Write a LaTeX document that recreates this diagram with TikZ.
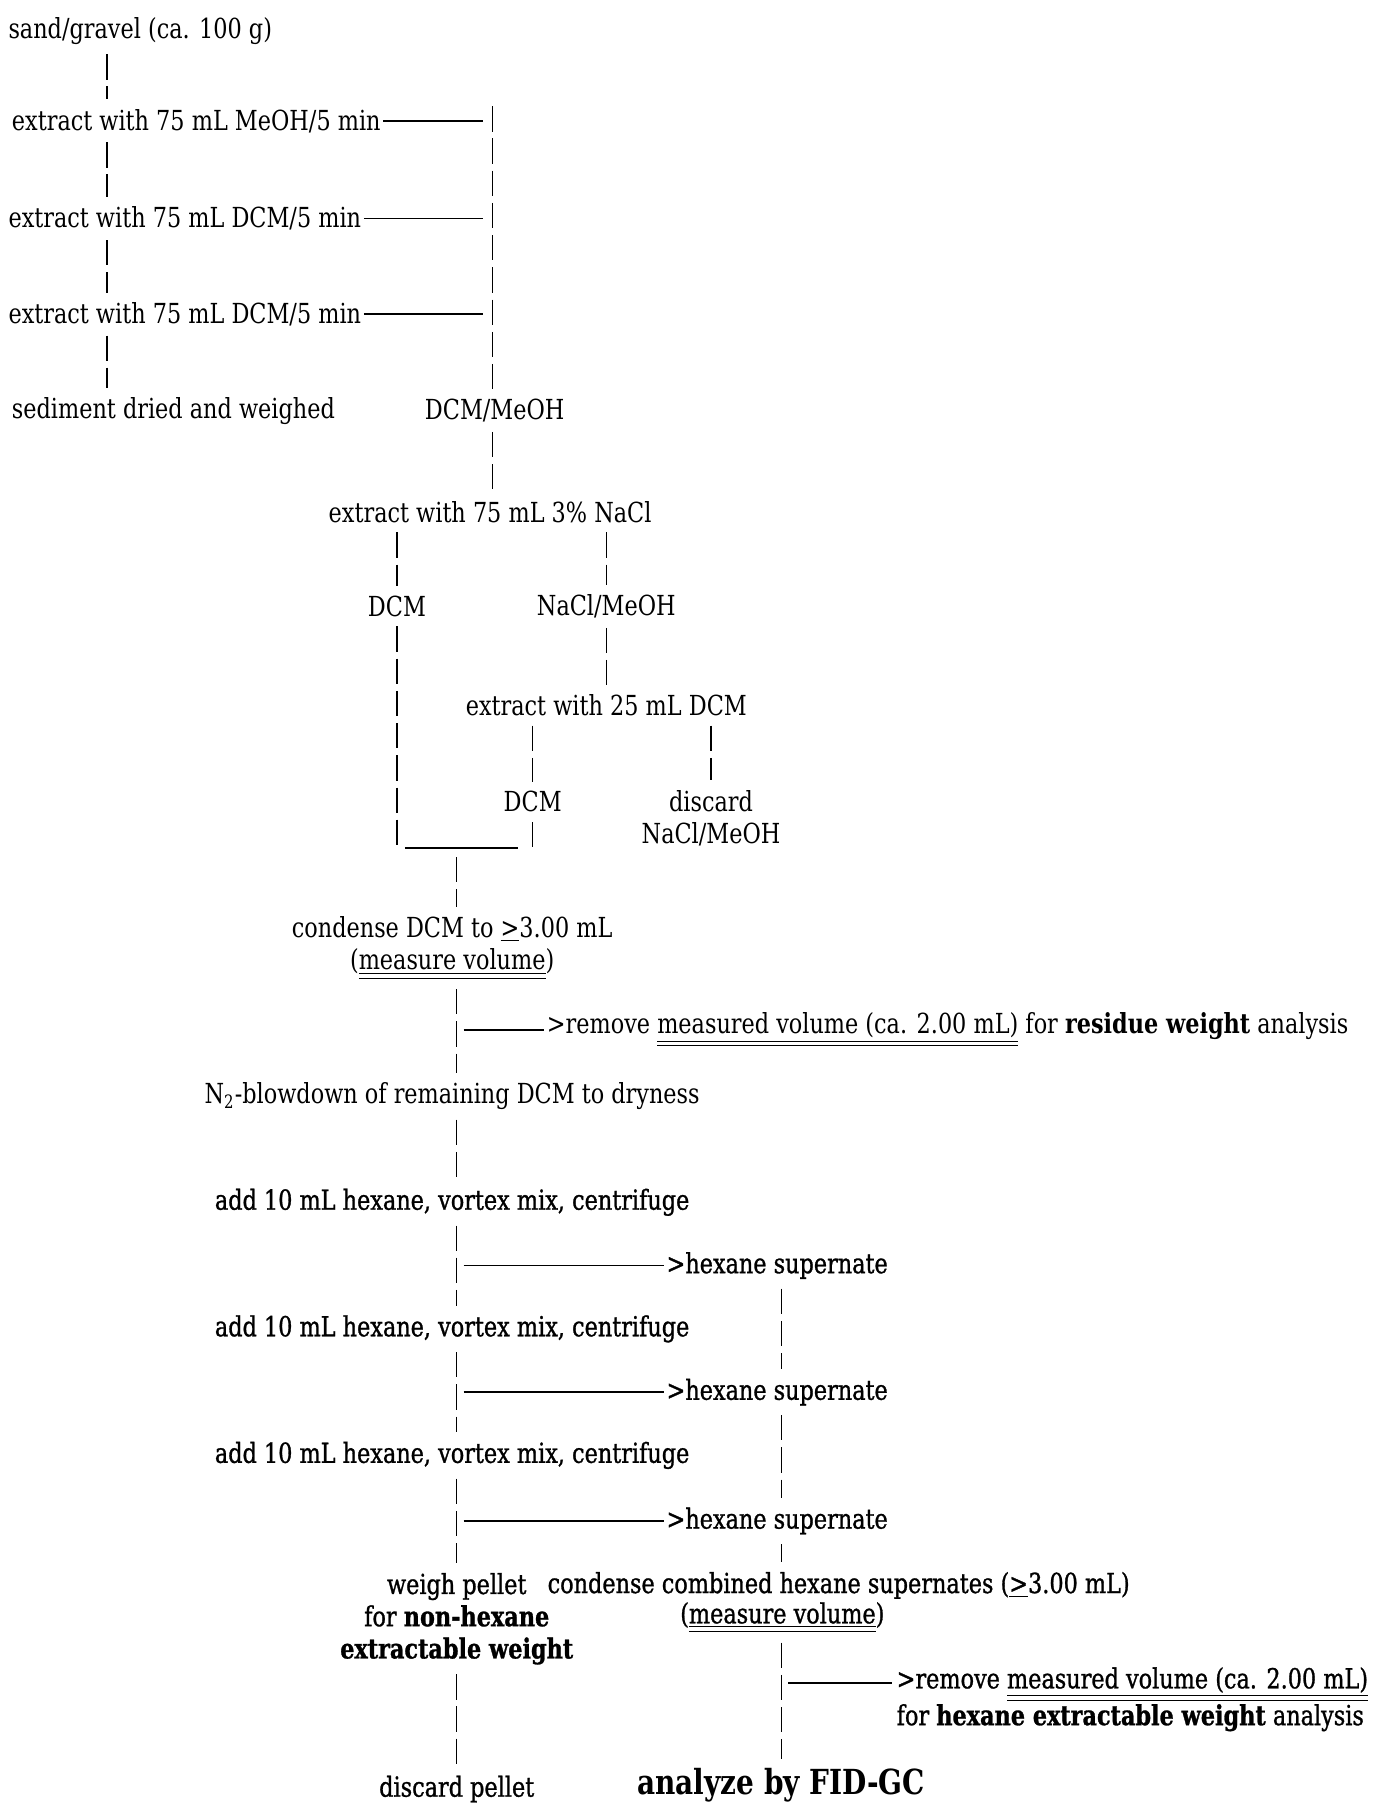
\documentclass[tikz,border=0pt]{standalone}
\usepackage{fontspec}
\setmainfont{DejaVu Serif}[FakeStretch=0.81]
\newfontfamily\heavyfont{DejaVu Serif}[FakeStretch=0.81, FakeBold=1]
\usetikzlibrary{calc}
\newcommand\dblul[1]{\underline{\underline{#1}}}
\begin{document}
\begin{tikzpicture}[x=0.5pt,y=-0.5pt,
  txt/.style={inner sep=1pt, font=\fontsize{12}{14}\selectfont},
  ctxt/.style={txt, align=center},
  ltxt/.style={txt, anchor=west, align=left},
  heavy/.style={font=\fontsize{12}{14}\selectfont\heavyfont},
  bar/.style={line width=0.6pt, dash pattern=on 11pt off 3pt, shorten <=3pt, shorten >=3pt},
  hline/.style={line width=0.7pt},
  mline/.style={line width=1.1pt},
]
\useasboundingbox[fill=white] (0,0) rectangle (1193,1568);
% x positions of the vertical connectors
\coordinate (xL) at (93,0);
\coordinate (xR) at (428,0);
\coordinate (xA) at (345,0);
\coordinate (xB) at (527,0);
\coordinate (xC) at (463,0);
\coordinate (xD) at (618,0);
\coordinate (xM) at (397,0);
\coordinate (xH) at (679,0);

% ---------- nodes ----------
\node[ltxt] (sand) at (5,27) {sand/gravel (ca. 100 g)};
\node[ltxt] (ex1) at (8,105) {extract with 75 mL MeOH/5 min};
\node[ltxt] (ex2) at (5,190) {extract with 75 mL DCM/5 min};
\node[ltxt] (ex3) at (5,273) {extract with 75 mL DCM/5 min};
\node[ltxt] (sed) at (8,357) {sediment dried and weighed};
\node[ctxt] (dcmmeoh) at (430,357) {DCM/MeOH};
\node[ctxt] (nacl) at (426,445) {extract with 75 mL 3\% NaCl};
\node[ctxt] (dcmA) at (345,527) {DCM};
\node[ctxt] (naclmeoh) at (527,527) {NaCl/MeOH};
\node[ctxt] (ex25) at (527,613) {extract with 25 mL DCM};
\node[ctxt] (dcmB) at (463,697) {DCM};
\node[ctxt] (discard) at (618,711) {discard\\NaCl/MeOH};
\node[ctxt] (condense) at (393,824) {condense DCM to \underline{>}3.00 mL\\(\dblul{measure volume})};
\node[ltxt] (remove1) at (473,895) {>remove \dblul{measured volume (ca. 2.00 mL)} for \textbf{residue weight} analysis};
\node[ctxt] (n2) at (393,953) {N\textsubscript{2}-blowdown of remaining DCM to dryness};
\node[ctxt, heavy] (add1) at (393,1045) {add 10 mL hexane, vortex mix, centrifuge};
\node[ltxt, heavy] (hs1) at (577,1100) {>hexane supernate};
\node[ctxt, heavy] (add2) at (393,1155) {add 10 mL hexane, vortex mix, centrifuge};
\node[ltxt, heavy] (hs2) at (577,1210) {>hexane supernate};
\node[ctxt, heavy] (add3) at (393,1265) {add 10 mL hexane, vortex mix, centrifuge};
\node[ltxt, heavy] (hs3) at (577,1322) {>hexane supernate};
\node[ctxt, heavy] (weigh) at (397,1407) {weigh pellet\\for \textbf{non-hexane}\\\textbf{extractable weight}};
\node[ctxt, heavy] (ccomb) at (729,1378) {condense combined hexane supernates (\underline{>}3.00 mL)};
\node[ctxt, heavy] (mv2) at (680,1406) {(\dblul{measure volume})};
\node[ltxt, heavy] (remove2) at (777,1477) {>remove \dblul{measured volume (ca. 2.00 mL)}\\for \textbf{hexane extractable weight} analysis};
\node[ctxt, heavy] (discardp) at (397,1555) {discard pellet};
\node[ctxt, font=\fontsize{15}{17}\selectfont\bfseries] (analyze) at (679,1552) {analyze by FID-GC};

% ---------- connectors ----------
% left column
\draw[bar] (sand.south -| xL) -- (ex1.north -| xL);
\draw[bar] (ex1.south -| xL) -- (ex2.north -| xL);
\draw[bar] (ex2.south -| xL) -- (ex3.north -| xL);
\draw[bar] (ex3.south -| xL) -- (sed.north -| xL);
% solvent collection column
\coordinate (r1) at (ex1.north -| xR);
\draw[hline] (ex1.east) -- ($(ex1.east -| xR)+(-8,0)$);
\draw[hline] (ex2.east) -- ($(ex2.east -| xR)+(-8,0)$);
\draw[hline] (ex3.east) -- ($(ex3.east -| xR)+(-8,0)$);
\draw[bar, shorten <=0pt] (r1) -- (dcmmeoh.north -| xR);
\draw[bar] (dcmmeoh.south -| xR) -- (nacl.north -| xR);
% NaCl partition
\draw[bar] (nacl.south -| xA) -- (dcmA.north -| xA);
\draw[bar] (nacl.south -| xB) -- (naclmeoh.north -| xB);
\draw[bar] (naclmeoh.south -| xB) -- (ex25.north -| xB);
\draw[bar] (ex25.south -| xC) -- (dcmB.north -| xC);
\draw[bar] (ex25.south -| xD) -- (discard.north -| xD);
% merge of DCM fractions
\coordinate (mg) at (397,737);
\draw[bar, shorten >=0pt] (dcmA.south -| xA) -- (mg -| xA);
\draw[bar, shorten >=0pt] (dcmB.south -| xC) -- (mg -| xC);
\draw[mline] ($(mg -| xA)+(7,0)$) -- ($(mg -| xC)+(-13,0)$);
\draw[bar, shorten <=4pt] (mg) -- (condense.north -| xM);
% DCM workup column
\coordinate (b1) at (remove1.west -| xM);
\draw[bar] (condense.south -| xM) -- (n2.north -| xM);
\draw[hline] ($(b1)+(6,0)$) -- (remove1.west);
\draw[bar] (n2.south -| xM) -- (add1.north -| xM);
\coordinate (b2) at (hs1.west -| xM);
\coordinate (b3) at (hs2.west -| xM);
\coordinate (b4) at (hs3.west -| xM);
\draw[bar] (add1.south -| xM) -- (add2.north -| xM);
\draw[bar] (add2.south -| xM) -- (add3.north -| xM);
\draw[bar] (add3.south -| xM) -- (weigh.north -| xM);
\draw[hline] ($(b2)+(6,0)$) -- (hs1.west);
\draw[hline] ($(b3)+(6,0)$) -- (hs2.west);
\draw[hline] ($(b4)+(6,0)$) -- (hs3.west);
\draw[bar] (weigh.south -| xM) -- (discardp.north -| xM);
% hexane column
\draw[bar] (hs1.south -| xH) -- (hs2.north -| xH);
\draw[bar] (hs2.south -| xH) -- (hs3.north -| xH);
\draw[bar] (hs3.south -| xH) -- (ccomb.north -| xH);
\node[inner sep=0pt] (r2) at (777,1463) {};
\coordinate (b5l) at (r2 -| xH);
\draw[bar] (mv2.south -| xH) -- (analyze.north -| xH);
\draw[hline] ($(b5l)+(6,0)$) -- (r2);
\end{tikzpicture}
\end{document}
